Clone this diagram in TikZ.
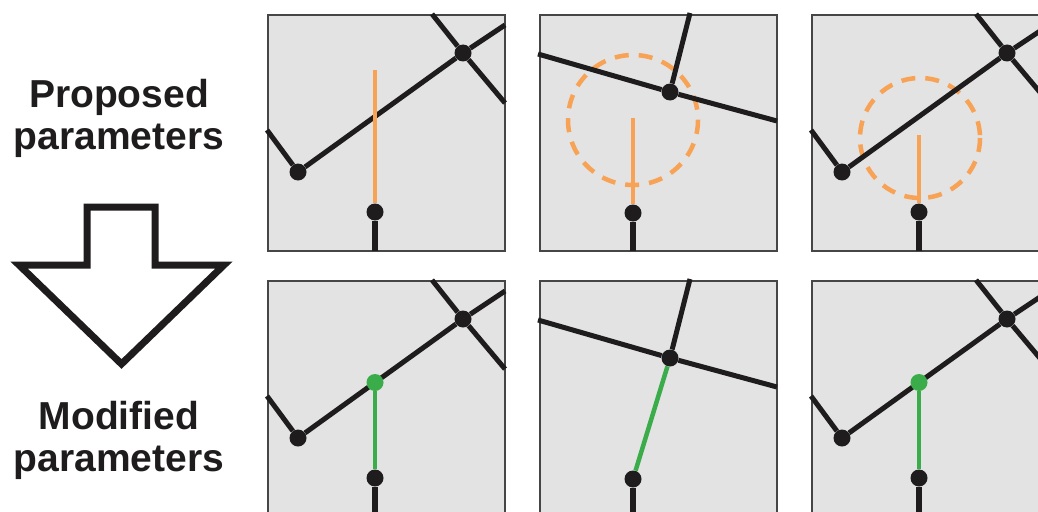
\documentclass[tikz,border=0pt]{standalone}
\usepackage{fontspec}
\setmainfont{Liberation Sans}
\usetikzlibrary{backgrounds}

\definecolor{ink}{RGB}{30,28,29}
\definecolor{tileface}{RGB}{227,227,227}
\definecolor{tileedge}{RGB}{70,70,70}
\definecolor{guess}{RGB}{247,162,84}
\definecolor{fixed}{RGB}{58,172,74}

\begin{document}
\begin{tikzpicture}[
  x=1pt, y=-1pt,
  caption/.style={font=\fontsize{39}{42}\selectfont\bfseries, text=ink, align=center, inner sep=0pt},
  bigarrow/.style={draw=ink, line width=7pt, miter limit=10, fill=white},
  panel/.style={draw=tileedge, fill=tileface, line width=1.5pt},
  road/.style={draw=ink, line width=5pt},
  stem/.style={draw=ink, line width=6.5pt},
  vtx/.style={circle, fill=ink, inner sep=0pt, minimum size=17pt},
  newvtx/.style={vtx, fill=fixed},
  proposal/.style={draw=guess, line width=4pt},
  searcharea/.style={draw=guess, line width=4.5pt, dash pattern=on 14pt off 10pt},
  accepted/.style={draw=fixed, line width=4.5pt},
  % junction network seen in the first and third column
  roadsA/.pic={
    \begin{scope}[on background layer]
      \draw[panel] (0,0) rectangle (237,236);
    \end{scope}
    \node[vtx] (-X) at (195,38) {};
    \node[vtx] (-L) at (30,157) {};
    \node[vtx] (-B) at (107,197) {};
    \coordinate (-n) at (164,-1);
    \coordinate (-se) at (237,88);
    \coordinate (-ne) at (237,10);
    \coordinate (-w) at (-1,115);
    \coordinate (-s) at (107,236);
    \coordinate (-far) at (107,55);
    \coordinate (-near) at (107,120);
    \coordinate (-hit) at (107,101.5);
    \coordinate (-ctr) at (108,123);
    \draw[road] (-n) -- (-X) -- (-se);
    \draw[road] (-ne) -- (-X) -- (-L) -- (-w);
    \draw[stem] (-B) -- (-s);
  },
  % junction network seen in the middle column
  roadsB/.pic={
    \begin{scope}[on background layer]
      \draw[panel] (0,0) rectangle (237,236);
    \end{scope}
    \node[vtx] (-X) at (130,77) {};
    \node[vtx] (-B) at (93,198) {};
    \coordinate (-w) at (-2,39);
    \coordinate (-e) at (237,106);
    \coordinate (-n) at (150,-2);
    \coordinate (-s) at (93,236);
    \coordinate (-tip) at (93,103);
    \coordinate (-ctr) at (93,105);
    \draw[road] (-w) -- (-X) -- (-e);
    \draw[road] (-n) -- (-X);
    \draw[stem] (-B) -- (-s);
  }
]
\useasboundingbox (0,0) rectangle (1038,511);

\node[caption] (prop) at (119,118) {Proposed\\parameters};
\node[caption] (mod) at (119,440) {Modified\\parameters};

\draw[bigarrow] (87,207) -- (155,207) -- (155,265) -- (224,265) -- (121.5,364)
  -- (19,265) -- (87,265) -- cycle;

% proposals
\pic (t1) at (268,15) {roadsA};
\pic (t2) at (540,15) {roadsB};
\pic (t3) at (812,15) {roadsA};

\draw[proposal] (t1-far) -- (t1-B);
\begin{scope}[on background layer]
  \draw[searcharea] (t2-ctr) circle[radius=65];
  \draw[searcharea] (t3-ctr) circle[radius=60];
\end{scope}
\draw[proposal] (t2-tip) -- (t2-B);
\draw[proposal] (t3-near) -- (t3-B);

% after modification
\pic (b1) at (268,281) {roadsA};
\pic (b2) at (540,281) {roadsB};
\pic (b3) at (812,281) {roadsA};

\node[newvtx] (b1-G) at (b1-hit) {};
\draw[accepted] (b1-B) -- (b1-G);
\draw[accepted] (b2-B) -- (b2-X);
\node[newvtx] (b3-G) at (b3-hit) {};
\draw[accepted] (b3-B) -- (b3-G);
\end{tikzpicture}
\end{document}
